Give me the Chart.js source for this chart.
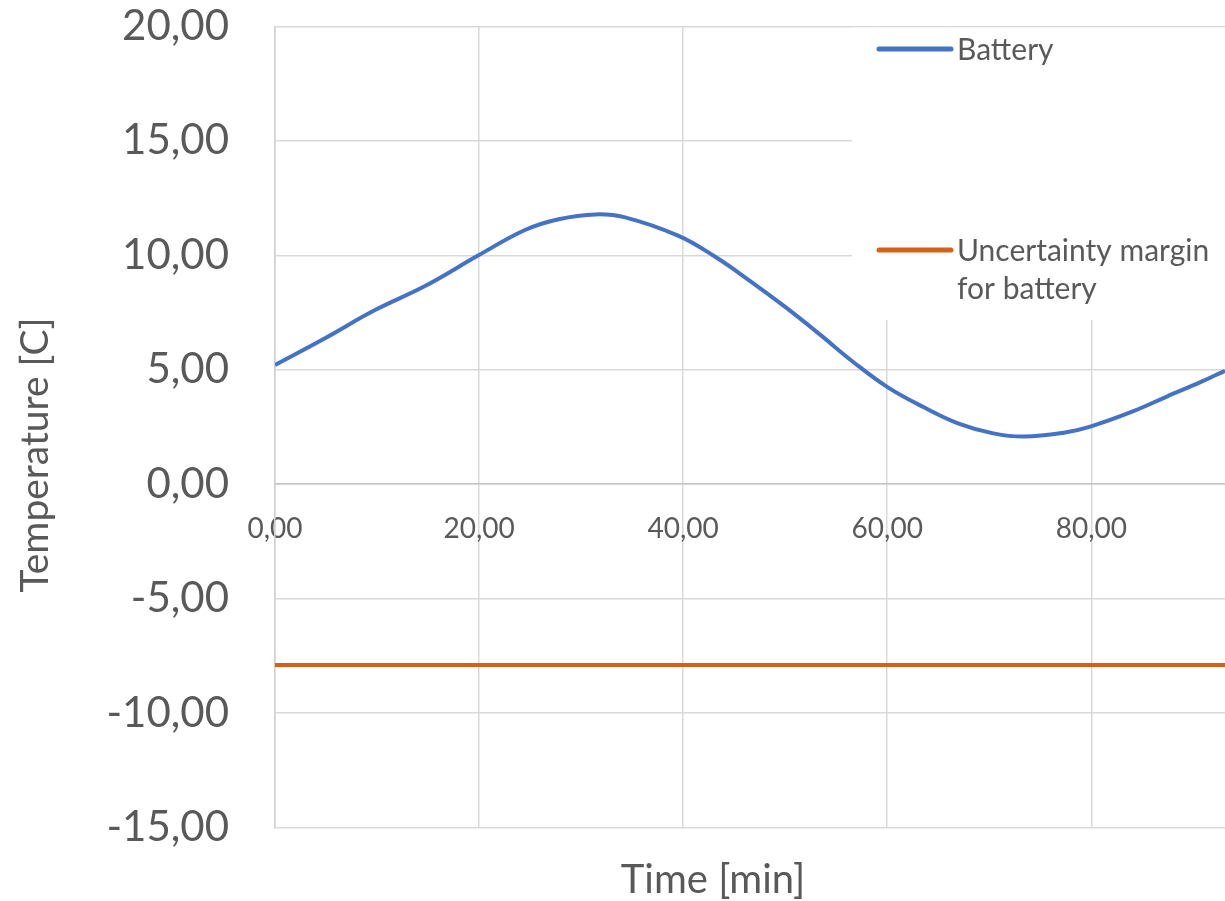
<!DOCTYPE html>
<html>
<head>
<meta charset="utf-8">
<title>Battery temperature</title>
<script src="https://cdn.jsdelivr.net/npm/chart.js@4/dist/chart.umd.min.js"></script>
<style>
  html, body { margin: 0; padding: 0; background: #ffffff; }
  canvas { display: block; }
</style>
</head>
<body>
<canvas id="chart" width="1225" height="901"></canvas>
<script>
// Battery temperature over time [min]
const timeMin = [0, 4.9, 9.8, 14.7, 19.9, 24.5, 27.8, 31.4, 34.3, 39.5, 43.1, 46.5, 49.9,
                 53.3, 56.7, 60.1, 63.6, 67.0, 70.4, 73.4, 77.3, 79.9, 84.0, 87.4, 90.8, 93.1];
const batteryTemp = [5.21, 6.38, 7.61, 8.66, 9.99, 11.11, 11.58, 11.79, 11.66, 10.86, 9.95, 8.90, 7.78,
                     6.58, 5.33, 4.22, 3.36, 2.65, 2.22, 2.08, 2.25, 2.52, 3.17, 3.83, 4.48, 4.96];

// Uncertainty margin (constant)
const marginTime = [0, 95];
const marginTemp = [-7.9, -7.9];

const seriesNames = ['Battery', 'Uncertainty margin for battery'];
const legendLines = [['Battery'], ['Uncertainty margin', 'for battery']];
const seriesColors = ['#4472C4', '#D2621B'];

const xTickValues = [0, 20, 40, 60, 80];
const yTickValues = [-15, -10, -5, 0, 5, 10, 15, 20];
const xTitle = 'Time [min]';
const yTitle = 'Temperature [C]';

const FONT = 'Lato, "Open Sans", sans-serif';
const TEXT = '#595959';
const GRID = '#d9d9d9';

const fmt = v => Number(v).toFixed(2).replace('.', ',');
const toPoints = (xs, ys) => xs.map((x, i) => ({ x: x, y: ys[i] }));
const noPadding = s => { s.paddingTop = 0; s.paddingBottom = 0; s.paddingLeft = 0; s.paddingRight = 0; };

// Legend panel and axis titles drawn onto the canvas
const overlay = {
  id: 'overlay',
  beforeDatasetsDraw(chart) {
    const ctx = chart.ctx;
    const area = chart.chartArea;
    const left = area.right - 373;
    ctx.save();
    ctx.fillStyle = '#ffffff';
    ctx.fillRect(left, area.top + 1, area.right - left, 320 - area.top - 1);

    const rows = [49, 250];
    ctx.font = '30px ' + FONT;
    ctx.fillStyle = TEXT;
    ctx.textAlign = 'left';
    ctx.textBaseline = 'alphabetic';
    chart.data.datasets.forEach((ds, i) => {
      const y = rows[i];
      ctx.strokeStyle = ds.borderColor;
      ctx.lineWidth = 5;
      ctx.lineCap = 'round';
      ctx.beginPath();
      ctx.moveTo(left + 27, y);
      ctx.lineTo(left + 99, y);
      ctx.stroke();
      legendLines[i].forEach((line, j) => {
        ctx.fillText(line, left + 105, y + 10.6 + j * 38.5);
      });
    });
    ctx.restore();
  },
  afterDraw(chart) {
    const ctx = chart.ctx;
    ctx.save();
    ctx.fillStyle = TEXT;
    ctx.font = '40px ' + FONT;
    ctx.textAlign = 'center';
    ctx.textBaseline = 'alphabetic';
    ctx.fillText(xTitle, 713, 892.5);
    ctx.font = '39px ' + FONT;
    ctx.translate(48, 455);
    ctx.rotate(-Math.PI / 2);
    ctx.fillText(yTitle, 0, 0);
    ctx.restore();
  }
};

new Chart(document.getElementById('chart'), {
  type: 'line',
  data: {
    datasets: [
      {
        label: seriesNames[0],
        data: toPoints(timeMin, batteryTemp),
        borderColor: seriesColors[0],
        borderWidth: 4,
        pointRadius: 0,
        tension: 0.4,
        fill: false
      },
      {
        label: seriesNames[1],
        data: toPoints(marginTime, marginTemp),
        borderColor: seriesColors[1],
        borderWidth: 4,
        pointRadius: 0,
        fill: false
      }
    ]
  },
  options: {
    responsive: false,
    animation: false,
    events: [],
    layout: { padding: { top: 26.5, bottom: 73.5, left: 0, right: 0 } },
    plugins: {
      legend: { display: false },
      tooltip: { enabled: false },
      title: { display: false }
    },
    scales: {
      x: {
        type: 'linear',
        min: 0,
        max: 93.1,
        position: { y: 0 },
        afterBuildTicks: s => { s.ticks = xTickValues.map(v => ({ value: v })); },
        afterFit: s => { s.height = 0; noPadding(s); },
        grid: { color: GRID, lineWidth: 1.5, drawTicks: false },
        border: { display: true, color: '#c4c4c4', width: 1.5 },
        ticks: {
          font: { family: FONT, size: 28 },
          color: TEXT,
          padding: 28,
          maxRotation: 0,
          autoSkip: false,
          callback: v => fmt(v)
        }
      },
      y: {
        min: -15,
        max: 20,
        afterBuildTicks: s => { s.ticks = yTickValues.map(v => ({ value: v })); },
        afterFit: s => { s.width = 275; noPadding(s); },
        grid: { color: GRID, lineWidth: 1.5, drawTicks: false },
        border: { display: true, color: '#d0d0d0', width: 1.5 },
        ticks: {
          font: { family: FONT, size: 42 },
          color: TEXT,
          padding: 46,
          callback: v => fmt(v)
        }
      }
    }
  },
  plugins: [overlay]
});
</script>
</body>
</html>
